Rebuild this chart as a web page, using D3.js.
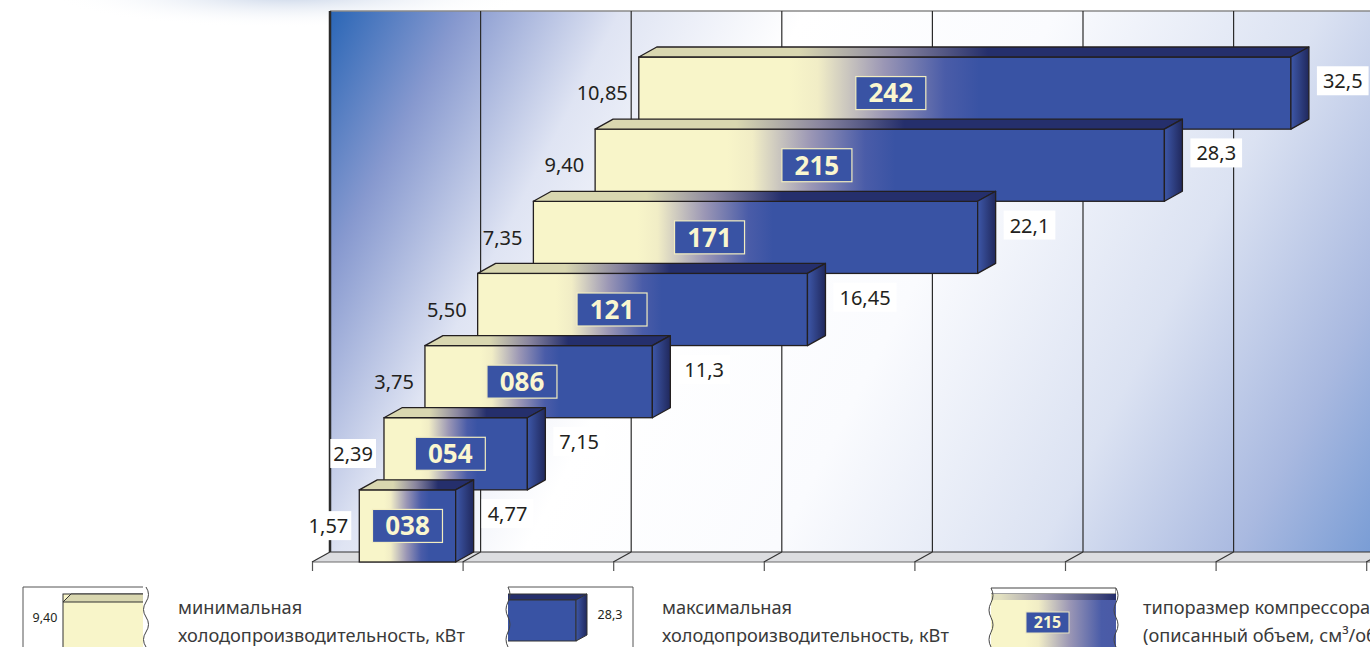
<!DOCTYPE html>
<html>
<head>
<meta charset="utf-8">
<script src="https://cdn.jsdelivr.net/npm/d3@7"></script>
<style>
body { margin: 0; background: #fff; overflow: hidden; }
text { font-family: "Noto Sans", sans-serif; }
</style>
</head>
<body>
<div id="chart"></div>
<script>
// compressor sizes and their cooling capacity range, kW
const categories = ["038", "054", "086", "121", "171", "215", "242"];
const minCap = [1.57, 2.39, 3.75, 5.50, 7.35, 9.40, 10.85];
const maxCap = [4.77, 7.15, 11.3, 16.45, 22.1, 28.3, 32.5];
const xTicks = [0, 5, 10, 15, 20, 25, 30, 35];
const legendText = [
  ["минимальная", "холодопроизводительность, кВт"],
  ["максимальная", "холодопроизводительность, кВт"],
  ["типоразмер компрессора", "(описанный объем, см³/об)"]
];

const W = 1370, H = 647;
const dx = 18, dy = 10;   // depth of the 3d effect
const cream = "#f8f5c9", khaki = "#d9d7b0", blue = "#3953a4", navy = "#252f6c";

const svg = d3.select("#chart").append("svg")
  .attr("width", W)
  .attr("height", H);
const defs = svg.append("defs");

var x = d3.scaleLinear().domain([0, 35]).range([312, 312 + 35 * 30.12]);
var y = d3.scaleBand().domain(categories).range([562, 57]);

const fmtMin = v => d3.format(".2f")(v).replace(".", ",");
const fmtMax = v => String(v).replace(".", ",");

function stops(grad, list) {
  list.forEach(s => grad.append("stop").attr("offset", s[0]).attr("stop-color", s[1]));
}

// soft glow at top left
const glow = defs.append("radialGradient").attr("id", "glow");
glow.append("stop").attr("offset", 0).attr("stop-color", "#c4d1e6");
glow.append("stop").attr("offset", 1).attr("stop-color", "#ffffff").attr("stop-opacity", 0);
svg.append("ellipse")
  .attr("cx", 290).attr("cy", -6)
  .attr("rx", 240).attr("ry", 34)
  .attr("fill", "url(#glow)");

// back wall
const wallGrad = defs.append("linearGradient").attr("id", "wall")
  .attr("gradientUnits", "userSpaceOnUse")
  .attr("x1", 330).attr("y1", 11).attr("x2", 1370).attr("y2", 552);
stops(wallGrad, [[0, "#2a66b6"], [0.1, "#8799cf"], [0.22, "#dfe4f3"], [0.36, "#ffffff"],
  [0.55, "#fafbfe"], [0.75, "#dbe2f2"], [0.9, "#a9b9e0"], [1, "#7a9dd5"]]);

svg.append("rect")
  .attr("x", x(0) + dx).attr("y", 11)
  .attr("width", W - x(0) - dx).attr("height", 541)
  .attr("fill", "url(#wall)");

svg.append("line")
  .attr("x1", x(0) + dx).attr("x2", W).attr("y1", 11).attr("y2", 11)
  .attr("stroke", "#8a8a8a").attr("stroke-width", 1.5);

svg.selectAll(".grid")
  .data(xTicks)
  .enter().append("line")
  .attr("class", "grid")
  .attr("x1", d => x(d) + dx).attr("x2", d => x(d) + dx)
  .attr("y1", 11).attr("y2", 552)
  .attr("stroke", "#2b2b2b")
  .attr("stroke-width", d => d === 0 ? 2.5 : 1.2);

// floor
svg.append("path")
  .attr("d", `M${x(0)},562 L${x(0) + dx},552 L${W},552 L${W},562 Z`)
  .attr("fill", "#dcdde0");
svg.append("line")
  .attr("x1", x(0) + dx).attr("x2", W).attr("y1", 552).attr("y2", 552)
  .attr("stroke", "#333").attr("stroke-width", 1.2);
svg.append("line")
  .attr("x1", x(0)).attr("x2", W).attr("y1", 562).attr("y2", 562)
  .attr("stroke", "#6d6d6d").attr("stroke-width", 1.2);
svg.selectAll(".diag")
  .data(xTicks)
  .enter().append("line")
  .attr("class", "diag")
  .attr("x1", d => x(d) + dx).attr("y1", 552)
  .attr("x2", d => x(d)).attr("y2", 562)
  .attr("stroke", "#333").attr("stroke-width", 1.2);

svg.append("g")
  .attr("transform", "translate(0,562)")
  .call(d3.axisBottom(x).tickValues(xTicks).tickSize(9).tickFormat(""))
  .call(g => g.select(".domain").remove())
  .call(g => g.selectAll("line").attr("stroke", "#555").attr("stroke-width", 1.2));

// side face gradient
const sideGrad = defs.append("linearGradient").attr("id", "side");
stops(sideGrad, [[0, "#3d57a8"], [1, "#20285c"]]);

const data = categories.map((c, i) => ({ cat: c, min: minCap[i], max: maxCap[i] }));

// draw from the top bar down so lower bars overlap upper ones
const bars = svg.selectAll(".bar")
  .data(data.slice().reverse())
  .enter().append("g")
  .attr("class", "bar");

bars.each(function(d) {
  const g = d3.select(this);
  const x0 = x(d.min), x1 = x(d.max), w = x1 - x0;
  const yt = y(d.cat), yb = yt + y.bandwidth();
  const cx = x0 + w * Math.min(0.5, 0.365 + 14 / w);
  const gx0 = cx - 0.14 * w - 10, gx1 = cx + 0.12 * w + 10;

  const gf = defs.append("linearGradient").attr("id", "gf" + d.cat)
    .attr("gradientUnits", "userSpaceOnUse")
    .attr("x1", gx0).attr("x2", gx1).attr("y1", 0).attr("y2", 0);
  stops(gf, [[0, cream], [0.15, "#f1edc6"], [0.5, "#9a96b5"], [0.82, "#4a5ca8"], [1, blue]]);
  const gt = defs.append("linearGradient").attr("id", "gt" + d.cat)
    .attr("gradientUnits", "userSpaceOnUse")
    .attr("x1", gx0 + dx / 2).attr("x2", gx1 + dx / 2).attr("y1", 0).attr("y2", 0);
  stops(gt, [[0, khaki], [0.5, "#8a869f"], [1, navy]]);

  g.append("rect")
    .attr("x", x0).attr("y", yt)
    .attr("width", w).attr("height", yb - yt)
    .attr("fill", `url(#gf${d.cat})`)
    .attr("stroke", "#231f20").attr("stroke-width", 1.3);
  g.append("path")
    .attr("d", `M${x0},${yt} L${x0 + dx},${yt - dy} L${x1 + dx},${yt - dy} L${x1},${yt} Z`)
    .attr("fill", `url(#gt${d.cat})`)
    .attr("stroke", "#231f20").attr("stroke-width", 1.3)
    .attr("stroke-linejoin", "round");
  g.append("path")
    .attr("d", `M${x1},${yt} L${x1 + dx},${yt - dy} L${x1 + dx},${yb - dy} L${x1},${yb} Z`)
    .attr("fill", "url(#side)")
    .attr("stroke", "#231f20").attr("stroke-width", 1.3)
    .attr("stroke-linejoin", "round");

  const cy = (yt + yb) / 2;
  g.append("rect")
    .attr("x", cx - 35).attr("y", cy - 16.5)
    .attr("width", 70).attr("height", 33)
    .attr("fill", blue)
    .attr("stroke", "#f2edc0").attr("stroke-width", 1.2);
  g.append("text")
    .attr("x", cx).attr("y", cy)
    .attr("dy", "0.36em")
    .attr("text-anchor", "middle")
    .attr("font-size", 26)
    .attr("font-weight", "bold")
    .attr("fill", "#faf6cf")
    .text(d.cat);
});

// value labels, each on a small white patch
function addBg(sel, pad) {
  sel.each(function() {
    const b = d3.select(this).select("text").node().getBBox();
    d3.select(this).select("rect")
      .attr("x", b.x - pad).attr("y", b.y - 1)
      .attr("width", b.width + 2 * pad).attr("height", b.height + 2);
  });
}

const minLab = svg.selectAll(".minlab")
  .data(data)
  .enter().append("g")
  .attr("class", "minlab");
minLab.append("rect").attr("fill", "#fff");
minLab.append("text")
  .attr("x", d => x(d.min) - 11)
  .attr("y", d => y(d.cat) + y.bandwidth() / 2)
  .attr("dy", "0.36em")
  .attr("text-anchor", "end")
  .attr("font-size", 20)
  .attr("fill", "#231f20")
  .text(d => fmtMin(d.min));
addBg(minLab.filter(d => d.min < 3), 3);
minLab.filter(d => d.min >= 3).select("rect").remove();

const maxLab = svg.selectAll(".maxlab")
  .data(data)
  .enter().append("g")
  .attr("class", "maxlab");
maxLab.append("rect").attr("fill", "#fff");
maxLab.append("text")
  .attr("x", d => x(d.max) + dx + 14)
  .attr("y", d => y(d.cat) + y.bandwidth() / 2 - 12)
  .attr("dy", "0.36em")
  .attr("font-size", 20)
  .attr("fill", "#231f20")
  .text(d => fmtMax(d.max));
addBg(maxLab, 6);

// legend
function wavy(xw, y0, y1, amp) {
  let s = `M${xw},${y0}`;
  const n = 4, h = (y1 - y0) / n;
  for (let i = 0; i < n; i++) {
    const ya = y0 + i * h;
    s += ` Q${xw + (i % 2 ? -amp : amp)},${ya + h / 2} ${xw},${ya + h}`;
  }
  return s;
}
const leg = svg.append("g").attr("class", "legend");

// item 1: minimum
leg.append("path").attr("d", "M23,648 L23,587 L146,587")
  .attr("fill", "none").attr("stroke", "#555").attr("stroke-width", 1);
leg.append("rect").attr("x", 63).attr("y", 594).attr("width", 84).attr("height", 55)
  .attr("fill", cream).attr("stroke", "#333").attr("stroke-width", 1);
leg.append("path").attr("d", "M63,602 L71,594 L147,594 L147,602 Z")
  .attr("fill", khaki).attr("stroke", "#333").attr("stroke-width", 1);
leg.append("rect").attr("x", 143).attr("y", 586).attr("width", 12).attr("height", 62).attr("fill", "#fff");
leg.append("path").attr("d", wavy(146, 587, 647, 5))
  .attr("fill", "none").attr("stroke", "#444").attr("stroke-width", 1);
leg.append("text").attr("x", 45).attr("y", 622).attr("text-anchor", "middle")
  .attr("font-size", 12.5).attr("fill", "#231f20").text(fmtMin(minCap[5]));

// item 2: maximum
leg.append("path").attr("d", "M507,587 L633,587 L633,648")
  .attr("fill", "none").attr("stroke", "#555").attr("stroke-width", 1);
leg.append("path").attr("d", "M505,594 L587,594 L576,600 L505,600 Z")
  .attr("fill", navy).attr("stroke", "#333").attr("stroke-width", 1);
leg.append("rect").attr("x", 505).attr("y", 600).attr("width", 71).attr("height", 41)
  .attr("fill", blue).attr("stroke", "#333").attr("stroke-width", 1);
leg.append("path").attr("d", "M576,600 L587,594 L587,635 L576,641 Z")
  .attr("fill", "url(#side)").attr("stroke", "#333").attr("stroke-width", 1);
leg.append("rect").attr("x", 498).attr("y", 586).attr("width", 10).attr("height", 62).attr("fill", "#fff");
leg.append("path").attr("d", wavy(508, 587, 647, 4))
  .attr("fill", "none").attr("stroke", "#444").attr("stroke-width", 1);
leg.append("text").attr("x", 610).attr("y", 619).attr("text-anchor", "middle")
  .attr("font-size", 12.5).attr("fill", "#231f20").text(fmtMax(maxCap[5]));

// item 3: size
const lf = defs.append("linearGradient").attr("id", "legf")
  .attr("gradientUnits", "userSpaceOnUse").attr("x1", 1025).attr("x2", 1115).attr("y1", 0).attr("y2", 0);
stops(lf, [[0, cream], [0.15, "#f1edc6"], [0.5, "#9a96b5"], [0.85, "#4a5ca8"], [1, "#4a5aa6"]]);
const lt = defs.append("linearGradient").attr("id", "legt")
  .attr("gradientUnits", "userSpaceOnUse").attr("x1", 1000).attr("x2", 1115).attr("y1", 0).attr("y2", 0);
stops(lt, [[0, "#e3e1c0"], [0.4, "#9e9aae"], [1, navy]]);
leg.append("rect").attr("x", 990).attr("y", 588).attr("width", 126).attr("height", 6)
  .attr("fill", "#fff").attr("stroke", "#444").attr("stroke-width", 1);
leg.append("rect").attr("x", 990).attr("y", 594).attr("width", 126).attr("height", 6)
  .attr("fill", "url(#legt)");
leg.append("rect").attr("x", 990).attr("y", 600).attr("width", 126).attr("height", 48)
  .attr("fill", "url(#legf)");
leg.append("rect").attr("x", 982).attr("y", 586).attr("width", 9).attr("height", 62).attr("fill", "#fff");
leg.append("rect").attr("x", 1116).attr("y", 586).attr("width", 9).attr("height", 62).attr("fill", "#fff");
leg.append("path").attr("d", wavy(991, 588, 647, 4))
  .attr("fill", "none").attr("stroke", "#444").attr("stroke-width", 1);
leg.append("path").attr("d", wavy(1116, 588, 647, 4))
  .attr("fill", "none").attr("stroke", "#444").attr("stroke-width", 1);
leg.append("rect").attr("x", 1026).attr("y", 612).attr("width", 43).attr("height", 21)
  .attr("fill", blue).attr("stroke", "#e8e4c0").attr("stroke-width", 1);
leg.append("text").attr("x", 1047.5).attr("y", 622.5).attr("dy", "0.36em").attr("text-anchor", "middle")
  .attr("font-size", 16).attr("font-weight", "bold").attr("fill", "#faf6cf").text(categories[5]);

// legend texts (the last one runs off the page edge, as in the source)
const legX = [178, 662, 1143];
legendText.forEach((lines, i) => {
  const t = leg.append("text")
    .attr("x", legX[i]).attr("y", 614)
    .attr("font-size", 18.2)
    .attr("fill", "#3a3a3a");
  lines.forEach((s, j) => {
    t.append("tspan").attr("x", legX[i]).attr("dy", j ? 28 : 0).text(s);
  });
});
</script>
</body>
</html>
